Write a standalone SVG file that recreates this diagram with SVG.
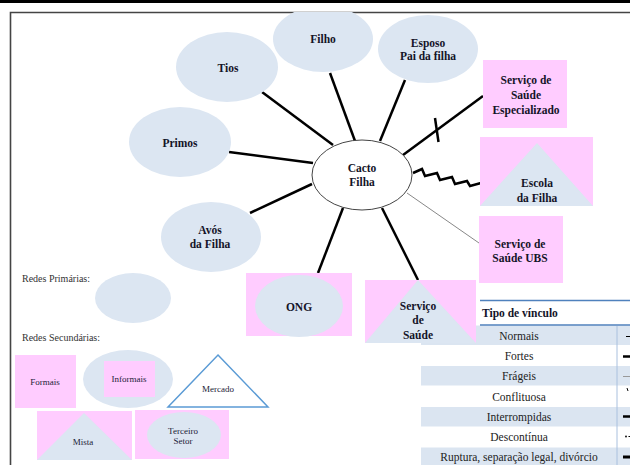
<svg xmlns="http://www.w3.org/2000/svg" width="630" height="465" viewBox="0 0 630 465">
<defs>
<clipPath id="pg"><rect x="0" y="12" width="630" height="453"/></clipPath>
<style>
.bl{fill:#dce6f2}
.pk{fill:#ffccff}
.t{font-family:"Liberation Serif","Times New Roman",serif;font-weight:bold;font-size:11.5px;fill:#141428;text-anchor:middle}
.s{font-family:"Liberation Serif","Times New Roman",serif;font-size:9px;fill:#222238;text-anchor:middle}
.lg{font-family:"Liberation Serif","Times New Roman",serif;font-size:10px;fill:#333}
.tb{font-family:"Liberation Serif","Times New Roman",serif;font-size:11.5px;fill:#222;text-anchor:middle}
.c{stroke:#000;fill:none;stroke-width:2.5}
.row{fill:#dbe5f1}
</style>
</defs>
<rect x="0" y="0" width="630" height="3" fill="#000"/>
<g id="frame" fill="none">
<path d="M10.5 465 V12.5 H630" stroke="#444" stroke-width="1.6"/>
</g>
<g id="connectors">
<line class="c" x1="262" y1="92" x2="333" y2="145" stroke-width="2"/>
<line class="c" x1="229" y1="152" x2="313" y2="163" stroke-width="2"/>
<line class="c" x1="250" y1="213" x2="312" y2="184" stroke-width="2"/>
<line class="c" x1="330" y1="73" x2="355" y2="141"/>
<line class="c" x1="405" y1="80" x2="380" y2="141"/>
<line class="c" x1="403" y1="155" x2="483" y2="96" stroke-width="3"/>
<line class="c" x1="435" y1="118" x2="438.5" y2="142" stroke-width="1.6"/>
<polyline class="c" stroke-width="1.2" points="413,173 422,169 425,176 437,173 440,180 452,177 455,184 467,181 470,186 481,183"/>
<line x1="407" y1="193" x2="479" y2="243" stroke="#888" stroke-width="1"/>
<line class="c" x1="343" y1="208" x2="318" y2="273"/>
<line class="c" x1="382" y1="208" x2="418" y2="280" stroke-width="3"/>
</g>
<g clip-path="url(#pg)">
<g id="filho"><ellipse class="bl" cx="323" cy="39" rx="50" ry="33"/><text class="t" x="323" y="43">Filho</text></g>
</g>
<g id="esposo"><ellipse class="bl" cx="428" cy="49" rx="50" ry="34"/><text class="t" x="428" y="47">Esposo</text><text class="t" x="428" y="60">Pai da filha</text></g>
<g id="tios"><ellipse class="bl" cx="227" cy="67" rx="51" ry="35"/><text class="t" x="228" y="72">Tios</text></g>
<g id="primos"><ellipse class="bl" cx="180" cy="142" rx="51" ry="35"/><text class="t" x="180" y="147">Primos</text></g>
<g id="avos"><ellipse class="bl" cx="211" cy="237" rx="50" ry="35"/><text class="t" x="210" y="234">Avós</text><text class="t" x="210" y="248">da Filha</text></g>
<g id="cacto"><ellipse cx="362" cy="175" rx="50" ry="35" fill="#fff" stroke="#444" stroke-width="1"/><text class="t" x="362" y="172">Cacto</text><text class="t" x="362" y="186">Filha</text></g>
<g id="especializado"><rect class="pk" x="483" y="60" width="84" height="68"/><text class="t" x="526" y="84">Serviço de</text><text class="t" x="526" y="99">Saúde</text><text class="t" x="526" y="114">Especializado</text></g>
<g id="escola"><rect class="pk" x="480" y="137" width="113" height="69"/><polygon class="bl" points="537,143 593,206 480,206"/><text class="t" x="537" y="187">Escola</text><text class="t" x="537" y="202">da Filha</text></g>
<g id="ubs"><rect class="pk" x="479" y="216" width="84" height="67"/><text class="t" x="520" y="248">Serviço de</text><text class="t" x="520" y="262">Saúde UBS</text></g>
<g id="ong"><rect class="pk" x="246" y="273" width="106" height="63"/><ellipse class="bl" cx="299" cy="306" rx="44" ry="31"/><text class="t" x="299" y="311">ONG</text></g>
<g id="tabela">
<line x1="480" y1="300.5" x2="630" y2="300.5" stroke="#4f81bd" stroke-width="1.5"/>
<rect class="row" x="421" y="325.5" width="209" height="19.5"/>
<line x1="480" y1="325" x2="630" y2="325" stroke="#4f81bd" stroke-width="1.5"/>
<rect class="row" x="421" y="366" width="209" height="19.5"/>
<rect class="row" x="421" y="407" width="209" height="19.5"/>
<rect class="row" x="421" y="447.5" width="209" height="19.5"/>
<line x1="617" y1="326" x2="617" y2="465" stroke="#a9c0de" stroke-width="1"/>
<text x="482" y="317" font-family="Liberation Serif,serif" font-weight="bold" font-size="11.5" fill="#141428">Tipo de vínculo</text>
<text class="tb" x="519" y="340">Normais</text>
<text class="tb" x="519" y="360">Fortes</text>
<text class="tb" x="519" y="380">Frágeis</text>
<text class="tb" x="519" y="401">Conflituosa</text>
<text class="tb" x="519" y="421">Interrompidas</text>
<text class="tb" x="519" y="441">Descontínua</text>
<text class="tb" x="519" y="461">Ruptura, separação legal, divórcio</text>
<line x1="626" y1="336.5" x2="630" y2="336.5" stroke="#000" stroke-width="1"/>
<line x1="623" y1="356.5" x2="630" y2="356.5" stroke="#000" stroke-width="2.5"/>
<line x1="623" y1="376.5" x2="630" y2="376.5" stroke="#999" stroke-width="1"/>
<line x1="627" y1="388" x2="628" y2="391" stroke="#000" stroke-width="1"/>
<line x1="623" y1="416.5" x2="630" y2="416.5" stroke="#000" stroke-width="2.5"/>
<circle cx="626" cy="436.5" r="0.9" fill="#000"/>
<line x1="628.5" y1="436.5" x2="630" y2="436.5" stroke="#000" stroke-width="1.2"/>
<line x1="623" y1="457" x2="630" y2="457" stroke="#000" stroke-width="3"/>
</g>
<g id="saude"><rect class="pk" x="365" y="280" width="111" height="63"/><polygon class="bl" points="418,280 476,343 365,343"/><text class="t" x="418" y="310">Serviço</text><text class="t" x="418" y="324">de</text><text class="t" x="418" y="339">Saúde</text></g>
<g id="legenda">
<text class="lg" x="22" y="282">Redes Primárias:</text>
<ellipse class="bl" cx="133" cy="298" rx="38" ry="25"/>
<text class="lg" x="22" y="341">Redes Secundárias:</text>
<g id="formais"><rect class="pk" x="15" y="355" width="61" height="53"/><text class="s" x="45" y="385">Formais</text></g>
<g id="informais"><ellipse class="bl" cx="128" cy="379" rx="45" ry="29"/><rect class="pk" x="104" y="361" width="51" height="36"/><text class="s" x="129" y="382">Informais</text></g>
<g id="mercado"><polygon points="218,355 268,407 168,407" fill="#fff" stroke="#5b9bd5" stroke-width="1.5"/><text class="s" x="218" y="392">Mercado</text></g>
<g id="mista"><rect class="pk" x="37" y="411" width="95" height="49"/><polygon class="bl" points="84,413 132,460 37,460"/><text class="s" x="83" y="445">Mista</text></g>
<g id="terceiro"><rect class="pk" x="135" y="410" width="94" height="49"/><ellipse class="bl" cx="184" cy="435" rx="37" ry="23"/><text class="s" x="183" y="434">Terceiro</text><text class="s" x="183" y="444">Setor</text></g>
</g>
</svg>
